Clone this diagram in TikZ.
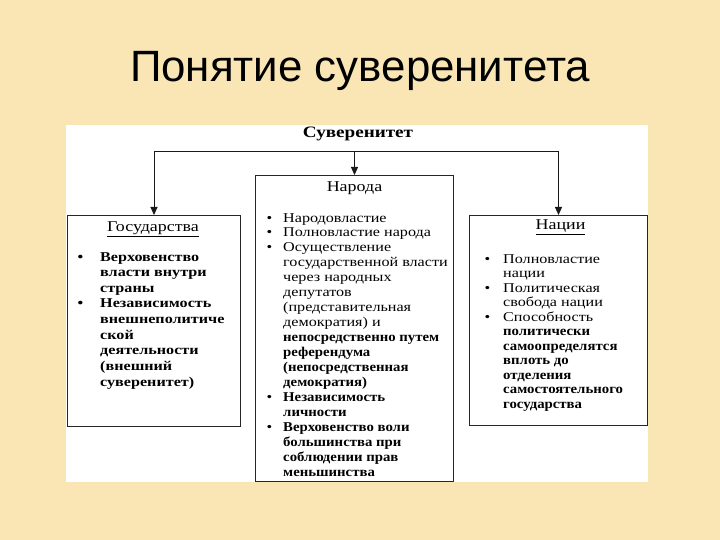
\documentclass[tikz,border=0pt]{standalone}
\usepackage{fontspec}
\setmainfont{Liberation Serif}
\newfontfamily\boxfont[FakeStretch=1.2]{Liberation Serif}
\newfontfamily\heavyfont[FakeStretch=1.1]{Liberation Serif}
\newfontfamily\titlefont{Liberation Sans}
\usetikzlibrary{arrows.meta,positioning}
\definecolor{slidebg}{RGB}{250,230,180}
% bullet hung to the left of a line
\newcommand{\bul}[1]{\llap{\smash{\textbullet}\hspace{#1}}}
\newcommand{\hv}[1]{{\heavyfont\bfseries #1}}

\begin{document}
\begin{tikzpicture}[x=1bp,y=-1bp,
  box/.style={draw=black!85, line width=1bp, fill=white, anchor=north west, inner sep=0pt},
  head/.style={font=\boxfont\fontsize{15}{17}\selectfont, inner sep=0pt, anchor=base},
  list/.style={anchor=north west, align=left, inner sep=0pt},
  arr/.style={-{Triangle[width=7bp,length=8bp]}, line width=1bp, draw=black!90}]
  \useasboundingbox (0,0) rectangle (720,540);
  \fill[slidebg] (0,0) rectangle (720,540);
  % title
  \node[anchor=base, inner sep=0pt, font=\titlefont\fontsize{44}{50}\selectfont] (title) at (360,82) {Понятие суверенитета};
  % white panel
  \fill[white] (66,125) rectangle (648,482);
  \node[anchor=base, inner sep=0pt, font=\boxfont\bfseries\fontsize{16}{18}\selectfont] (sov) at (358,138) {Суверенитет};
  % boxes
  \node[box, minimum width=173bp, minimum height=211bp] (gos) at (67,215) {};
  \node[box, minimum width=198bp, minimum height=306bp] (nar) at (255,175) {};
  \node[box, minimum width=178bp, minimum height=210bp] (nac) at (469,215) {};
  % connectors
  \coordinate (bus) at (353,152);
  \draw[line width=1bp, draw=black!90] (bus -| gos.north) -- (bus -| nac.north);
  \draw[arr] (bus -| gos.north) -- (gos.north);
  \draw[arr] (bus -| nar.north) -- (nar.north);
  \draw[arr] (bus -| nac.north) -- (nac.north);
  % headers
  \node[head] (gosh) at ([xshift=-1bp,yshift=-17bp]gos.north) {\underline{Государства}};
  \node[head] (narh) at ([yshift=-17bp]nar.north) {Народа};
  \node[head] (nach) at ([xshift=2bp,yshift=-15bp]nac.north) {\underline{Нации}};
  % lists
  \node[list, font=\boxfont\bfseries\fontsize{13.5}{15.7}\selectfont] (gosl) at ([xshift=33bp,yshift=-37bp]gos.north west)
    {\bul{17bp}Верховенство\\
     власти внутри\\
     страны\\
     \bul{17bp}Независимость\\
     внешнеполитиче\\
     ской\\
     деятельности\\
     (внешний\\
     суверенитет)};
  \node[list, font=\boxfont\fontsize{13.5}{15}\selectfont] (narl) at ([xshift=28bp,yshift=-38bp]nar.north west)
    {\bul{11bp}Народовластие\\
     \bul{11bp}Полновластие народа\\
     \bul{11bp}Осуществление\\
     государственной власти\\
     через народных\\
     депутатов\\
     (представительная\\
     демократия) и\\
     \hv{непосредственно путем}\\
     \hv{референдума}\\
     \hv{(непосредственная}\\
     \hv{демократия)}\\
     \bul{11bp}\hv{Независимость}\\
     \hv{личности}\\
     \bul{11bp}\hv{Верховенство воли}\\
     \hv{большинства при}\\
     \hv{соблюдении прав}\\
     \hv{меньшинства}};
  \node[list, font=\boxfont\fontsize{13.5}{14.6}\selectfont] (nacl) at ([xshift=34bp,yshift=-39bp]nac.north west)
    {\bul{13bp}Полновластие\\
     нации\\
     \bul{13bp}Политическая\\
     свобода нации\\
     \bul{13bp}Способность\\
     \hv{политически}\\
     \hv{самоопределятся}\\
     \hv{вплоть до}\\
     \hv{отделения}\\
     \hv{самостоятельного}\\
     \hv{государства}};
\end{tikzpicture}
\end{document}
